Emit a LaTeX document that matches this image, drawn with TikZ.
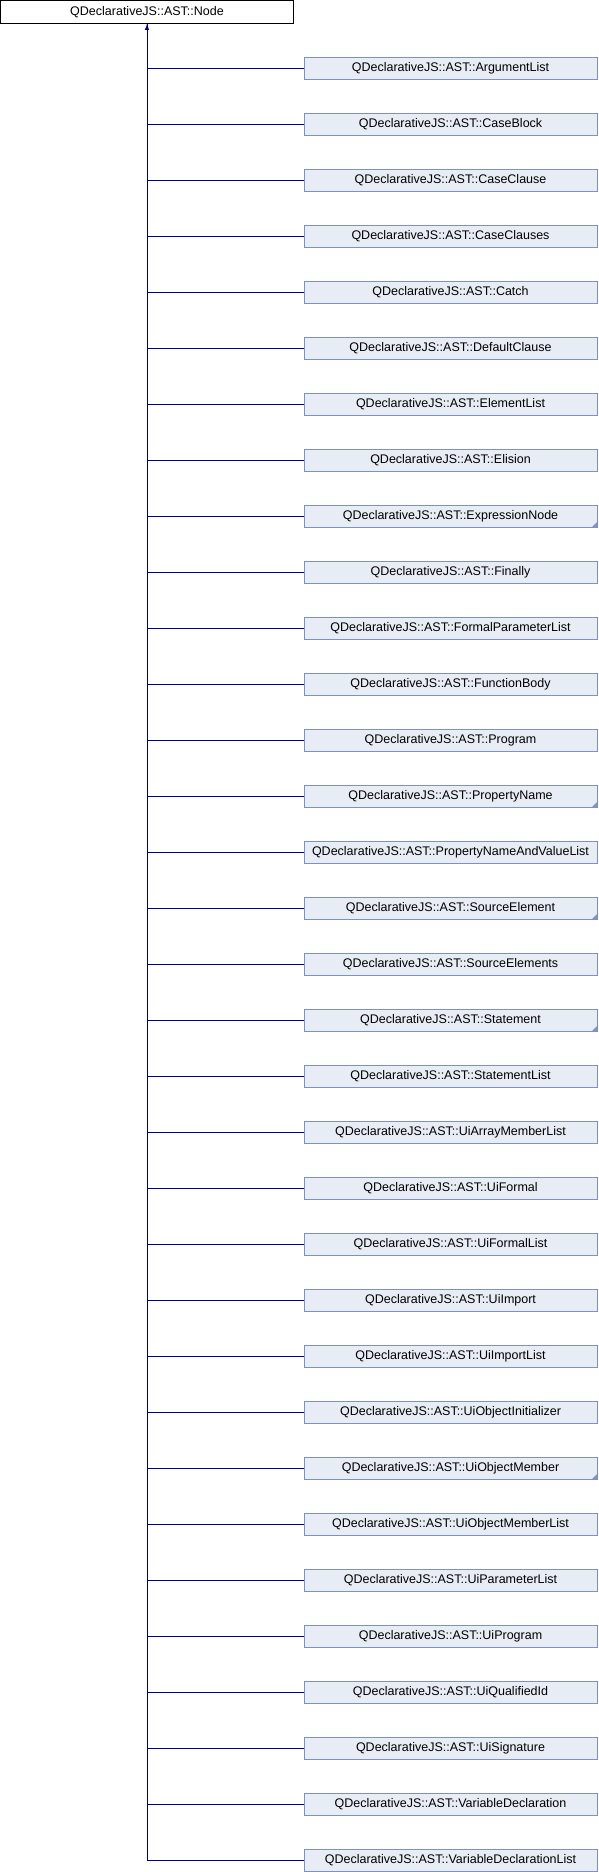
\documentclass[tikz,border=0pt]{standalone}
\usepackage{fontspec}
\setmainfont{Liberation Sans}
\usetikzlibrary{arrows,shapes,positioning}
\definecolor{boxfill}{RGB}{232,236,245}
\definecolor{boxborder}{RGB}{124,145,200}
\definecolor{edgeblue}{RGB}{0,0,139}
\tikzstyle{baseblock} = [rectangle, draw=black, fill=white, line width=1pt, minimum width=293pt, minimum height=23pt, inner sep=0pt, font=\fontsize{12.5}{15}\selectfont]
\tikzstyle{subblock} = [rectangle, draw=boxborder, fill=boxfill, line width=1pt, minimum width=293pt, minimum height=22pt, inner sep=0pt, font=\fontsize{12.5}{15}\selectfont]
\tikzstyle{edge} = [draw=edgeblue, line width=1pt]

\begin{document}
\begin{tikzpicture}[x=1pt, y=1pt, node distance=56pt, >=latex]
   \useasboundingbox (0,0) rectangle (598,-1872);
   % nodes
   \node[baseblock] (n)  at (147,-12)                  {QDeclarativeJS::AST::Node};
   \node[subblock] (a)   at (450.5,-68)                {QDeclarativeJS::AST::ArgumentList};
   \node[subblock] (b)   [below of=a]                  {QDeclarativeJS::AST::CaseBlock};
   \node[subblock] (c)   [below of=b]                  {QDeclarativeJS::AST::CaseClause};
   \node[subblock] (d)   [below of=c]                  {QDeclarativeJS::AST::CaseClauses};
   \node[subblock] (e)   [below of=d]                  {QDeclarativeJS::AST::Catch};
   \node[subblock] (f)   [below of=e]                  {QDeclarativeJS::AST::DefaultClause};
   \node[subblock] (g)   [below of=f]                  {QDeclarativeJS::AST::ElementList};
   \node[subblock] (h)   [below of=g]                  {QDeclarativeJS::AST::Elision};
   \node[subblock] (i)   [below of=h]                  {QDeclarativeJS::AST::ExpressionNode};
   \node[subblock] (j)   [below of=i]                  {QDeclarativeJS::AST::Finally};
   \node[subblock] (k)   [below of=j]                  {QDeclarativeJS::AST::FormalParameterList};
   \node[subblock] (l)   [below of=k]                  {QDeclarativeJS::AST::FunctionBody};
   \node[subblock] (m)   [below of=l]                  {QDeclarativeJS::AST::Program};
   \node[subblock] (o)   [below of=m]                  {QDeclarativeJS::AST::PropertyName};
   \node[subblock] (p)   [below of=o]                  {QDeclarativeJS::AST::PropertyNameAndValueList};
   \node[subblock] (q)   [below of=p]                  {QDeclarativeJS::AST::SourceElement};
   \node[subblock] (r)   [below of=q]                  {QDeclarativeJS::AST::SourceElements};
   \node[subblock] (s)   [below of=r]                  {QDeclarativeJS::AST::Statement};
   \node[subblock] (t)   [below of=s]                  {QDeclarativeJS::AST::StatementList};
   \node[subblock] (u)   [below of=t]                  {QDeclarativeJS::AST::UiArrayMemberList};
   \node[subblock] (v)   [below of=u]                  {QDeclarativeJS::AST::UiFormal};
   \node[subblock] (w)   [below of=v]                  {QDeclarativeJS::AST::UiFormalList};
   \node[subblock] (x)   [below of=w]                  {QDeclarativeJS::AST::UiImport};
   \node[subblock] (y)   [below of=x]                  {QDeclarativeJS::AST::UiImportList};
   \node[subblock] (z)   [below of=y]                  {QDeclarativeJS::AST::UiObjectInitializer};
   \node[subblock] (aa)  [below of=z]                  {QDeclarativeJS::AST::UiObjectMember};
   \node[subblock] (ab)  [below of=aa]                 {QDeclarativeJS::AST::UiObjectMemberList};
   \node[subblock] (ac)  [below of=ab]                 {QDeclarativeJS::AST::UiParameterList};
   \node[subblock] (ad)  [below of=ac]                 {QDeclarativeJS::AST::UiProgram};
   \node[subblock] (ae)  [below of=ad]                 {QDeclarativeJS::AST::UiQualifiedId};
   \node[subblock] (af)  [below of=ae]                 {QDeclarativeJS::AST::UiSignature};
   \node[subblock] (ag)  [below of=af]                 {QDeclarativeJS::AST::VariableDeclaration};
   \node[subblock] (ah)  [below of=ag]                 {QDeclarativeJS::AST::VariableDeclarationList};

   % truncation marks
   \fill[boxborder] (i.south east) -- ++(-6,0) -- ++(6,6) -- cycle;
   \fill[boxborder] (o.south east) -- ++(-6,0) -- ++(6,6) -- cycle;
   \fill[boxborder] (q.south east) -- ++(-6,0) -- ++(6,6) -- cycle;
   \fill[boxborder] (s.south east) -- ++(-6,0) -- ++(6,6) -- cycle;
   \fill[boxborder] (aa.south east) -- ++(-6,0) -- ++(6,6) -- cycle;

   % edges
   \draw[edge,<-,edgeblue] (n.south) |- (ah.west);
   \draw[edge] (n.south) |- (a.west);
   \draw[edge] (n.south) |- (b.west);
   \draw[edge] (n.south) |- (c.west);
   \draw[edge] (n.south) |- (d.west);
   \draw[edge] (n.south) |- (e.west);
   \draw[edge] (n.south) |- (f.west);
   \draw[edge] (n.south) |- (g.west);
   \draw[edge] (n.south) |- (h.west);
   \draw[edge] (n.south) |- (i.west);
   \draw[edge] (n.south) |- (j.west);
   \draw[edge] (n.south) |- (k.west);
   \draw[edge] (n.south) |- (l.west);
   \draw[edge] (n.south) |- (m.west);
   \draw[edge] (n.south) |- (o.west);
   \draw[edge] (n.south) |- (p.west);
   \draw[edge] (n.south) |- (q.west);
   \draw[edge] (n.south) |- (r.west);
   \draw[edge] (n.south) |- (s.west);
   \draw[edge] (n.south) |- (t.west);
   \draw[edge] (n.south) |- (u.west);
   \draw[edge] (n.south) |- (v.west);
   \draw[edge] (n.south) |- (w.west);
   \draw[edge] (n.south) |- (x.west);
   \draw[edge] (n.south) |- (y.west);
   \draw[edge] (n.south) |- (z.west);
   \draw[edge] (n.south) |- (aa.west);
   \draw[edge] (n.south) |- (ab.west);
   \draw[edge] (n.south) |- (ac.west);
   \draw[edge] (n.south) |- (ad.west);
   \draw[edge] (n.south) |- (ae.west);
   \draw[edge] (n.south) |- (af.west);
   \draw[edge] (n.south) |- (ag.west);
\end{tikzpicture}
\end{document}
